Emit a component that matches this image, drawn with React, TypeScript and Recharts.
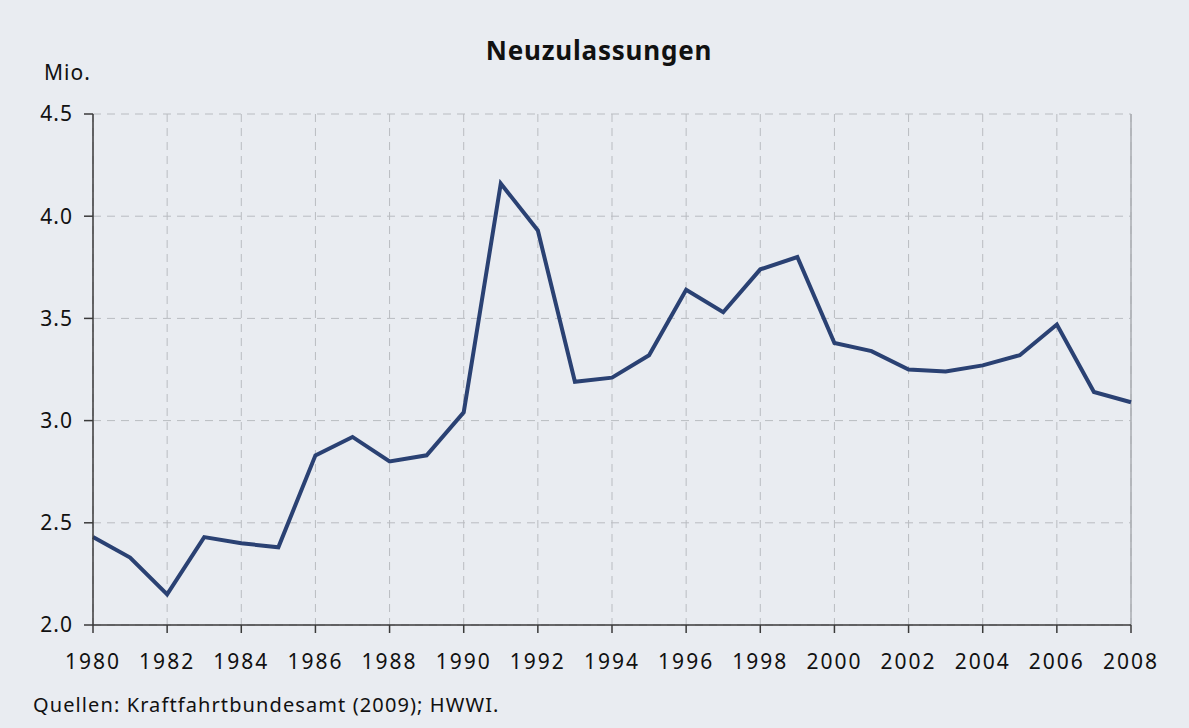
import React from "react";
import { CartesianGrid, Line, LineChart, ReferenceLine, XAxis, YAxis } from "recharts";

const years = [
  1980, 1981, 1982, 1983, 1984, 1985, 1986, 1987, 1988, 1989, 1990, 1991, 1992, 1993, 1994,
  1995, 1996, 1997, 1998, 1999, 2000, 2001, 2002, 2003, 2004, 2005, 2006, 2007, 2008,
];
const registrations = [
  2.43, 2.33, 2.15, 2.43, 2.4, 2.38, 2.83, 2.92, 2.8, 2.83, 3.04, 4.16, 3.93, 3.19, 3.21,
  3.32, 3.64, 3.53, 3.74, 3.8, 3.38, 3.34, 3.25, 3.24, 3.27, 3.32, 3.47, 3.14, 3.09,
];
const xTicks = [1980, 1982, 1984, 1986, 1988, 1990, 1992, 1994, 1996, 1998, 2000, 2002, 2004, 2006, 2008];
const yTicks = [2.0, 2.5, 3.0, 3.5, 4.0, 4.5];

const data = years.map((year, i) => ({ year, value: registrations[i] }));

const FONT = "'Noto Sans', 'Open Sans', sans-serif";
const BG = "#e9ecf1";
const AXIS = "#3a3a3a";

export default function App() {
  return (
    <div style={{ position: "absolute", left: 0, top: 0, width: 1189, height: 728, background: BG, fontFamily: FONT }}>
      <LineChart width={1189} height={728} data={data} margin={{ top: 114, right: 58, bottom: 63, left: 33 }}>
        <CartesianGrid stroke="#b9bcc1" strokeDasharray="8 6" />
        <XAxis
          dataKey="year"
          type="number"
          domain={[1980, 2008]}
          ticks={xTicks}
          height={40}
          tickSize={8}
          tickMargin={21}
          stroke={AXIS}
          strokeWidth={1.5}
          tick={{ fill: "#111", fontSize: 21, letterSpacing: 2, fontFamily: FONT }}
        />
        <YAxis
          type="number"
          domain={[2, 4.5]}
          ticks={yTicks}
          width={60}
          tickSize={9}
          tickMargin={11}
          stroke={AXIS}
          strokeWidth={1.5}
          tickFormatter={(v: number) => v.toFixed(1)}
          tick={{ fill: "#111", fontSize: 21, letterSpacing: 1, fontFamily: FONT }}
        />
        <ReferenceLine x={2008} stroke="#a9acb1" strokeWidth={1.5} ifOverflow="visible" />
        <Line
          type="linear"
          dataKey="value"
          stroke="#2a4173"
          strokeWidth={4}
          dot={false}
          isAnimationActive={false}
        />
      </LineChart>
      <svg
        width={1189}
        height={728}
        style={{ position: "absolute", left: 0, top: 0, pointerEvents: "none" }}
      >
        <text x={599} y={60} textAnchor="middle" fontSize={26} fontWeight="bold" fill="#111" fontFamily={FONT} letterSpacing={0.8}>
          Neuzulassungen
        </text>
        <text x={44} y={80} fontSize={21} fill="#111" fontFamily={FONT} letterSpacing={1}>
          Mio.
        </text>
        <text x={33} y={712} fontSize={20} fill="#111" fontFamily={FONT} letterSpacing={1.1}>
          Quellen: Kraftfahrtbundesamt (2009); HWWI.
        </text>
      </svg>
    </div>
  );
}
